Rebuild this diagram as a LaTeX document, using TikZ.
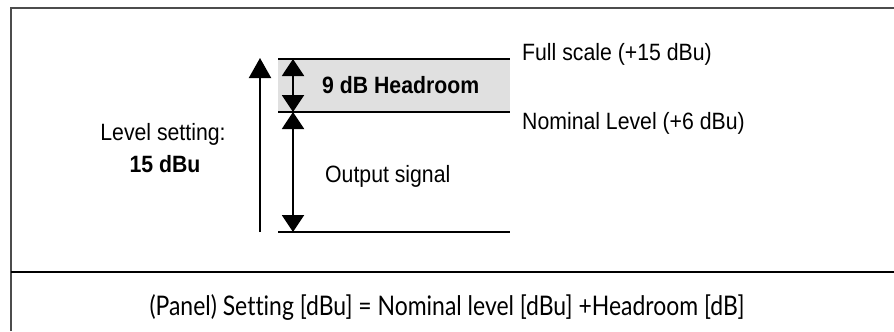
\documentclass[tikz,border=0pt]{standalone}
\usepackage{fontspec}
\setmainfont{Liberation Sans}[FakeStretch=0.9]
\newfontfamily\formulafont{Lato}[FakeStretch=0.85,Ligatures={NoCommon}]
\usetikzlibrary{arrows.meta}
\begin{document}
\begin{tikzpicture}[x=1bp,y=-1bp,
  level/.style={line width=2bp},
  sig/.style={line width=2bp,{Triangle[length=17bp,width=22bp]}-{Triangle[length=17bp,width=22bp]}},
  rise/.style={line width=2bp,-{Triangle[length=20bp,width=22bp]}},
  lbl/.style={inner sep=0pt,font=\fontsize{23.6bp}{26bp}\selectfont},
  blbl/.style={lbl,font=\fontsize{23.6bp}{26bp}\selectfont\bfseries}]
\useasboundingbox (0,0) rectangle (894,331);

% panel frame and divider
\draw[line width=2bp,color=black!70] (11,331) -- (11,8) -- (894,8);
\draw[line width=2.5bp] (11,272) -- (894,272);

% reference levels
\coordinate (fsL) at (278,59);  \coordinate (fsR) at (510,59);
\coordinate (nlL) at (278,112); \coordinate (nlR) at (510,112);
\coordinate (zL)  at (278,232); \coordinate (zR)  at (510,232);
\fill[black!12] (fsL) rectangle (nlR);
\draw[level] (fsL) -- (fsR);
\draw[level] (nlL) -- (nlR);
\draw[level] (zL) -- (zR);

% arrows
\coordinate (hTop) at (293,59);
\coordinate (hMid) at (293,112);
\coordinate (hBot) at (293,232);
\coordinate (lvBot) at (260,232);
\coordinate (lvTop) at (260,58);
\draw[sig] (hMid) -- (hTop);
\draw[sig] (hBot) -- (hMid);
\draw[rise] (lvBot) -- (lvTop);

% labels
\node[blbl,anchor=base west] (hr) at (322,93) {9 dB Headroom};
\node[lbl,anchor=base west] (fs) at (522,60) {Full scale (+15 dBu)};
\node[lbl,anchor=base west] (nl) at (522,129) {Nominal Level (+6 dBu)};
\node[lbl,anchor=base west] (os) at (325,182) {Output signal};
\node[lbl,anchor=base] (ls) at (163,140) {Level setting:};
\node[blbl,anchor=base] (lv) at (165,172) {15 dBu};

% formula
\node[inner sep=0pt,anchor=base,font=\formulafont\fontsize{27bp}{30bp}\selectfont] (eq) at (447,315)
  {(Panel) Setting [dBu] = Nominal level [dBu] +Headroom [dB]};
\end{tikzpicture}
\end{document}
